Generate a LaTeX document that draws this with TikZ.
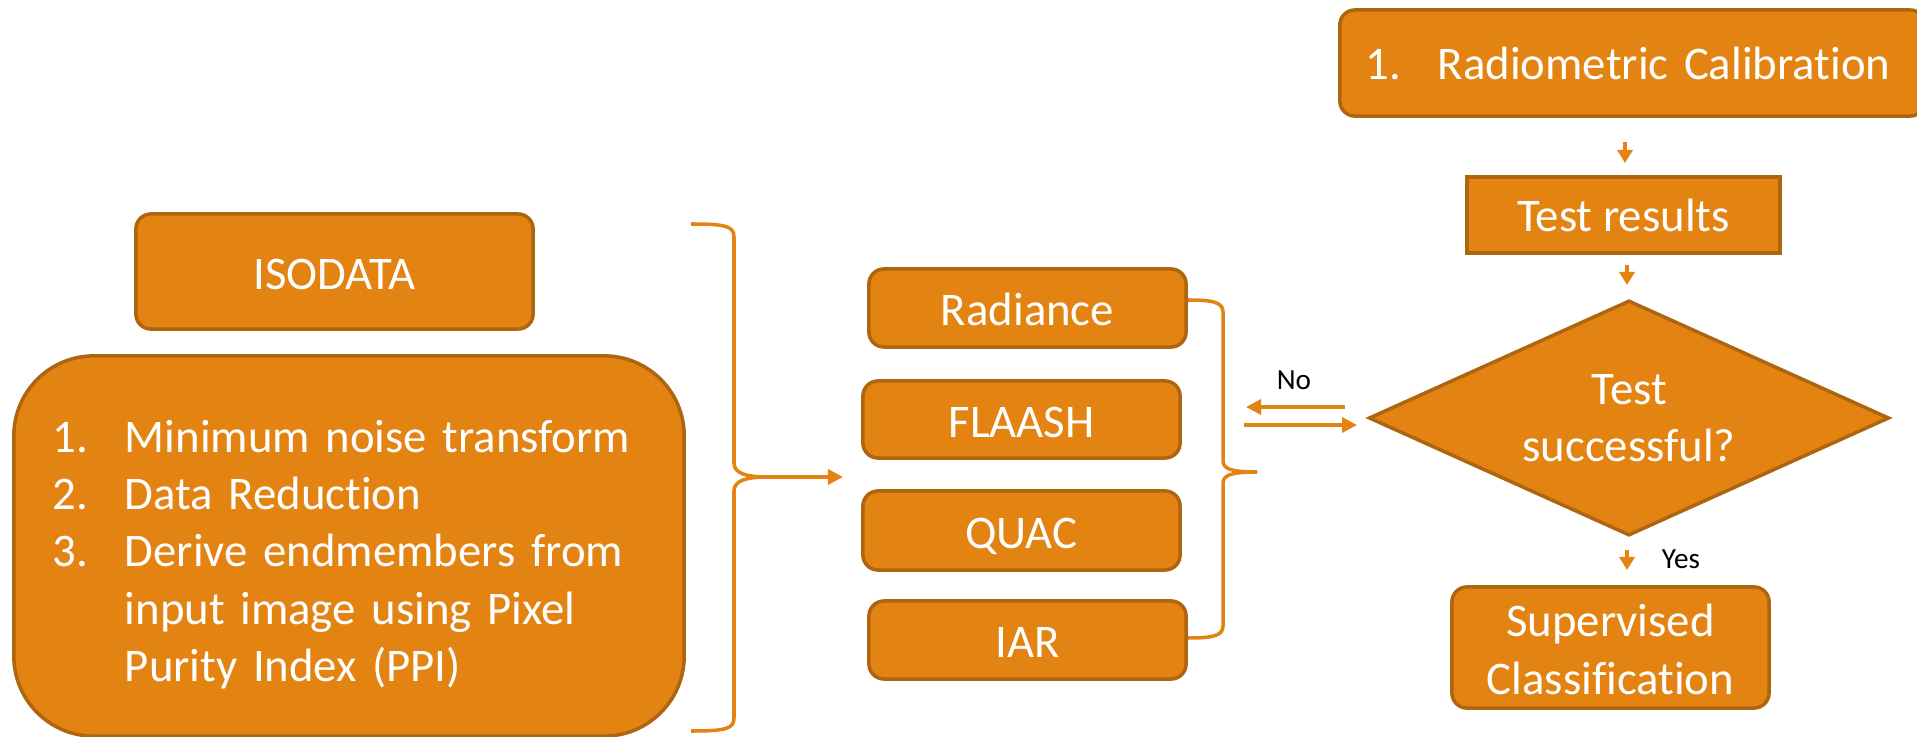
\documentclass[tikz,border=0pt]{standalone}
\usepackage{fontspec}
\setmainfont{Carlito}[Ligatures={NoCommon}]
\usetikzlibrary{shapes.geometric,arrows.meta}
\definecolor{org}{HTML}{E38312}
\definecolor{orgd}{HTML}{AE6510}
\begin{document}
\begin{tikzpicture}[x=0.01cm,y=-0.01cm,
  box/.style={draw=orgd,fill=org,line width=1pt,text=white,rounded corners=0.15cm,
    font=\fontsize{13.3}{16.3}\selectfont,align=center,inner sep=0pt},
  boxS/.style={box,text height=11pt,text depth=1pt},
  boxL/.style={box,rounded corners=0.8cm,align=left},
  dec/.style={box,shape=diamond,aspect=2.2,rounded corners=0pt},
  brace/.style={draw=org,line width=1pt},
  arr/.style={draw=org,line width=1pt,-{Triangle[length=0.15cm,width=0.15cm]}},
  arrS/.style={draw=org,line width=1pt,-{Triangle[length=0.13cm,width=0.15cm]}},
  lbl/.style={font=\fontsize{8.3}{10}\selectfont}]
\useasboundingbox (0,0) rectangle (1917,737);
\def\nw{0.72cm}

% left column
\node[boxS,minimum width=3.97cm,minimum height=1.15cm] (iso) at (334.5,271.5) {ISODATA};
\node[boxL,minimum width=6.70cm,minimum height=3.80cm,text width=5.92cm] (ppi) at (349,546)
  {\makebox[\nw][l]{\rule{0pt}{14pt}1.}Minimum noise transform\\
   \makebox[\nw][l]{2.}Data Reduction\\
   \makebox[\nw][l]{3.}Derive endmembers from\\
   \hspace*{\nw}input image using Pixel\\
   \hspace*{\nw}Purity Index (PPI)};

% left brace
\coordinate (lbT) at (691,224);
\coordinate (lbB) at (691,731);
\coordinate (lbM) at (768,477);
\coordinate (lbE) at (843,477);
\draw[brace] (lbT) .. controls (725,224) and (734,226) .. (734,237) -- (734,463)
  .. controls (734,473) and (745,477) .. (lbM);
\draw[brace] (lbB) .. controls (725,731) and (734,729) .. (734,718) -- (734,491)
  .. controls (734,481) and (745,477) .. (lbM);
\draw[arr] (lbM) -- (lbE);

% correction methods
\node[boxS,minimum width=3.17cm,minimum height=0.78cm] (rad) at (1027.5,308) {Radiance};
\node[boxS,minimum width=3.17cm,minimum height=0.77cm] (fla) at (1021.5,419.5) {FLAASH};
\node[boxS,minimum width=3.17cm,minimum height=0.79cm] (qua) at (1021.5,530.5) {QUAC};
\node[boxS,minimum width=3.17cm,minimum height=0.78cm] (iar) at (1027.5,640) {IAR};

% right brace
\coordinate (rbE) at (1257,472);
\draw[brace] (rad.east |- 0,300) .. controls (1212,300) and (1223,302) .. (1223,312) -- (1223,460)
  .. controls (1223,468) and (1228,472) .. (rbE);
\draw[brace] (iar.east |- 0,638) .. controls (1212,638) and (1223,636) .. (1223,626) -- (1223,484)
  .. controls (1223,476) and (1228,472) .. (rbE);

% calibration chain
\node[box,minimum width=5.85cm,minimum height=1.06cm,align=left,text width=5.33cm] (cal) at (1632.5,63)
  {\makebox[\nw][l]{1.}Radiometric Calibration};
\node[box,rounded corners=0pt,minimum width=3.13cm,minimum height=0.76cm] (tst) at (1623.5,215) {Test results};
\node[dec,minimum width=5.2cm,minimum height=2.35cm] (ok) at (1629,418) {Test\\successful?};
\node[box,minimum width=3.17cm,minimum height=1.21cm] (sup) at (1610.5,647.5) {\rule{0pt}{10.3pt}Supervised\\Classification};

\coordinate (a1) at (1625,142);
\coordinate (a2) at (1625,163);
\coordinate (b1) at (1627,265);
\coordinate (b2) at (1627,285);
\coordinate (c1) at (1627,550);
\coordinate (c2) at (1627,570);
\draw[arrS] (a1) -- (a2);
\draw[arrS] (b1) -- (b2);
\draw[arrS] (c1) -- (c2);
\node[lbl] (yes) at (1681,559) {Yes};

% no loop
\coordinate (n1) at (1345,407);
\coordinate (n2) at (1246,407);
\coordinate (n3) at (1244,425);
\coordinate (n4) at (1357,425);
\draw[arr] (n1) -- (n2);
\draw[arr] (n3) -- (n4);
\node[lbl] (no) at (1294,380) {No};
\end{tikzpicture}
\end{document}
